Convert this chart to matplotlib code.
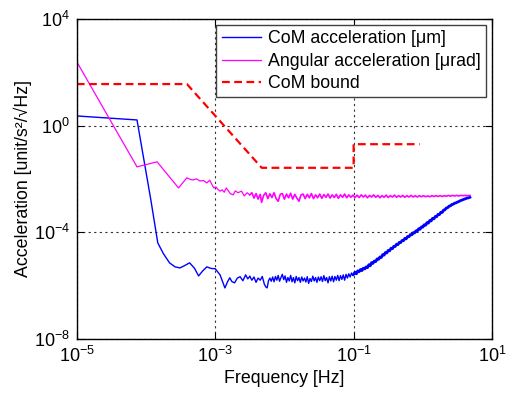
import numpy as np
import matplotlib
matplotlib.use("Agg")
import matplotlib.pyplot as plt
from matplotlib.ticker import FixedLocator, FuncFormatter, NullLocator

plt.rcParams['font.family'] = ['Liberation Sans', 'DejaVu Sans']
plt.rcParams['mathtext.fontset'] = 'custom'
plt.rcParams['mathtext.rm'] = 'Liberation Sans'
plt.rcParams['mathtext.it'] = 'Liberation Sans:italic'
plt.rcParams['mathtext.bf'] = 'Liberation Sans:bold'

# ---- CoM acceleration (log10 frequency, log10 ASD) ----
com_lf_low = [-5.00, -4.13, -3.93, -3.83, -3.75, -3.66, -3.58, -3.51, -3.44, -3.37,
              -3.30, -3.24, -3.18, -3.12, -3.06, -3.00, -2.93, -2.86, -2.82, -2.79,
              -2.76, -2.72, -2.68, -2.64, -2.60, -2.56, -2.53, -2.50]
com_la_low = [0.36, 0.21, -2.79, -4.40, -4.80, -5.15, -5.30, -5.34, -5.25, -5.15,
              -5.35, -5.64, -5.45, -5.30, -5.36, -5.37, -5.60, -6.09, -5.85, -5.71,
              -5.85, -5.90, -5.72, -5.67, -5.82, -5.60, -5.75, -5.66]

com_lf_mid = [-2.50, -2.47, -2.44, -2.41, -2.38, -2.35, -2.32, -2.29, -2.27, -2.25, -2.23,
              -2.21, -2.19, -2.17, -2.15, -2.13, -2.11, -2.09, -2.07, -2.05, -2.03,
              -2.01, -1.99, -1.97, -1.95, -1.93, -1.91, -1.89, -1.87, -1.85, -1.83,
              -1.81, -1.79, -1.77, -1.75, -1.73, -1.71, -1.69, -1.67, -1.65, -1.63,
              -1.61, -1.59, -1.57, -1.55, -1.53, -1.51, -1.49, -1.47, -1.45, -1.43,
              -1.41, -1.39, -1.37, -1.35, -1.33, -1.31, -1.29, -1.27, -1.25, -1.23,
              -1.21, -1.19, -1.17, -1.15, -1.13, -1.11, -1.09, -1.07, -1.05, -1.03,
              -1.01, -1.00]
com_la_mid = [-5.66, -5.80, -5.68, -5.88, -5.72, -5.80, -5.66, -5.95, -6.05, -6.09, -5.82,
              -5.72, -5.84, -5.68, -5.86, -5.66, -5.80, -5.62, -5.84, -5.70, -5.58,
              -5.78, -5.64, -5.88, -5.70, -5.83, -5.62, -5.86, -5.70, -5.90, -5.66,
              -5.82, -5.70, -5.88, -5.68, -5.83, -5.72, -5.87, -5.67, -5.92, -5.74,
              -5.85, -5.65, -5.83, -5.70, -5.88, -5.68, -5.82, -5.67, -5.85, -5.63,
              -5.82, -5.70, -5.90, -5.67, -5.83, -5.65, -5.86, -5.66, -5.80, -5.62,
              -5.82, -5.63, -5.77, -5.60, -5.80, -5.58, -5.72, -5.56, -5.68, -5.53,
              -5.63, -5.58]

com_lf_high = [-1.00, -0.98, -0.96, -0.94, -0.92, -0.90, -0.88, -0.86, -0.84, -0.82,
               -0.80, -0.78, -0.76, -0.74, -0.72, -0.70, -0.68, -0.66, -0.64, -0.62,
               -0.60, -0.58, -0.56, -0.54, -0.52, -0.50, -0.48, -0.46, -0.44, -0.42,
               -0.40, -0.38, -0.36, -0.34, -0.32, -0.30, -0.28, -0.26, -0.24, -0.22,
               -0.20, -0.18, -0.16, -0.14, -0.12, -0.10, -0.08, -0.06, -0.04, -0.02,
               0.00, 0.02, 0.04, 0.06, 0.08, 0.10, 0.12, 0.14, 0.16, 0.18,
               0.20, 0.22, 0.24, 0.26, 0.28, 0.30, 0.32, 0.34, 0.36, 0.38,
               0.40, 0.42, 0.44, 0.46, 0.48, 0.50, 0.52, 0.54, 0.56, 0.58,
               0.60, 0.62, 0.64, 0.66, 0.68]
com_la_high = [-5.58, -5.50, -5.56, -5.45, -5.48, -5.40, -5.44, -5.35, -5.38, -5.30,
               -5.33, -5.22, -5.26, -5.14, -5.17, -5.08, -5.10, -5.00, -5.02, -4.93,
               -4.95, -4.84, -4.86, -4.76, -4.78, -4.68, -4.70, -4.60, -4.62, -4.53,
               -4.54, -4.45, -4.47, -4.38, -4.39, -4.31, -4.32, -4.23, -4.25, -4.16,
               -4.17, -4.09, -4.10, -4.02, -4.03, -3.95, -3.96, -3.87, -3.89, -3.80,
               -3.81, -3.72, -3.74, -3.64, -3.66, -3.56, -3.58, -3.48, -3.50, -3.41,
               -3.42, -3.33, -3.34, -3.25, -3.26, -3.17, -3.16, -3.09, -3.08, -3.02,
               -3.01, -2.96, -2.95, -2.91, -2.90, -2.87, -2.85, -2.82, -2.80, -2.78,
               -2.76, -2.74, -2.72, -2.71, -2.69]

# ---- Angular acceleration (log10 frequency, log10 ASD) ----
ang_lf_low = [-5.00, -4.13, -3.84, -3.53, -3.41, -3.36, -3.32, -3.27, -3.22, -3.17,
              -3.12, -3.08, -3.05, -3.02, -2.99, -2.96, -2.93, -2.90, -2.87, -2.84,
              -2.81, -2.78, -2.74, -2.71, -2.67, -2.62, -2.58, -2.54, -2.50]
ang_la_low = [2.39, -1.55, -1.36, -2.34, -1.96, -2.02, -2.04, -2.00, -2.08, -2.06,
              -2.15, -2.05, -2.20, -2.34, -2.30, -2.40, -2.46, -2.41, -2.50, -2.34,
              -2.45, -2.56, -2.60, -2.45, -2.52, -2.46, -2.64, -2.52, -2.60]

ang_lf_mid = [-2.50, -2.47, -2.44, -2.41, -2.38, -2.35, -2.33, -2.30, -2.27, -2.24, -2.21,
              -2.18, -2.15, -2.12, -2.09, -2.06, -2.03, -2.00, -1.97, -1.94, -1.91,
              -1.88, -1.85, -1.82, -1.79, -1.76, -1.73, -1.70, -1.67, -1.64, -1.61,
              -1.58, -1.55, -1.52, -1.49, -1.46, -1.43, -1.40, -1.37, -1.34, -1.31,
              -1.28, -1.25, -1.22, -1.19, -1.16, -1.13, -1.10, -1.07, -1.04, -1.01,
              -0.98, -0.95, -0.92, -0.89, -0.86, -0.83, -0.80, -0.77, -0.74, -0.71,
              -0.68, -0.65, -0.62, -0.59, -0.56, -0.53, -0.50, -0.47, -0.44, -0.41,
              -0.38, -0.35, -0.32, -0.29, -0.26, -0.23, -0.20, -0.17, -0.14, -0.11,
              -0.08, -0.05, -0.02, 0.01, 0.04, 0.07, 0.10, 0.13, 0.16, 0.19,
              0.22, 0.25, 0.28, 0.31, 0.34, 0.37, 0.40, 0.43, 0.46, 0.49,
              0.52, 0.55, 0.58, 0.61, 0.64, 0.68]
ang_la_mid = [-2.60, -2.52, -2.72, -2.55, -2.76, -2.58, -2.88, -2.62, -2.52, -2.74, -2.56,
              -2.70, -2.52, -2.74, -2.84, -2.58, -2.55, -2.76, -2.57, -2.71, -2.54,
              -2.76, -2.58, -2.72, -2.84, -2.60, -2.57, -2.74, -2.58, -2.71, -2.55,
              -2.74, -2.60, -2.71, -2.57, -2.73, -2.59, -2.69, -2.57, -2.72, -2.60,
              -2.70, -2.58, -2.73, -2.60, -2.69, -2.57, -2.71, -2.60, -2.69, -2.61,
              -2.70, -2.61, -2.70, -2.60, -2.68, -2.61, -2.71, -2.62, -2.68, -2.60,
              -2.69, -2.62, -2.71, -2.63, -2.69, -2.61, -2.70, -2.63, -2.68, -2.61,
              -2.69, -2.63, -2.68, -2.62, -2.69, -2.63, -2.68, -2.62, -2.68, -2.63,
              -2.68, -2.63, -2.67, -2.63, -2.67, -2.64, -2.67, -2.63, -2.66, -2.63,
              -2.66, -2.63, -2.66, -2.63, -2.65, -2.62, -2.65, -2.62, -2.64, -2.62,
              -2.64, -2.62, -2.63, -2.62, -2.63, -2.62]

# ---- CoM bound (Hz, unit/s^2/rtHz) ----
bound_f = [1e-5, 3.9e-4, 4.7e-3, 0.1, 0.1, 0.9]
bound_a = [36.0, 36.0, 0.026, 0.026, 0.2, 0.2]

fig = plt.figure(figsize=(5.12, 3.94), dpi=100)
ax = fig.add_axes([0.150, 0.140, 0.811, 0.812])

blue = '#0000ff'
mag = '#ff00ff'

def pw(v):
    return 10.0 ** np.asarray(v)

ax.plot(pw(com_lf_low), pw(com_la_low), color=blue, lw=1.0,
        label='CoM acceleration [\u03bcm]')
ax.plot(pw(com_lf_mid), pw(com_la_mid), color=blue, lw=1.0)
ax.plot(pw(com_lf_high), pw(com_la_high), color=blue, lw=2.0)

ax.plot(pw(ang_lf_low), pw(ang_la_low), color=mag, lw=0.9,
        label='Angular acceleration [\u03bcrad]')
ax.plot(pw(ang_lf_mid), pw(ang_la_mid), color=mag, lw=1.2)

ax.plot(bound_f, bound_a, color='#ff0000', lw=1.6, ls=(0, (3.5, 2.0)),
        label='CoM bound')

ax.set_xscale('log')
ax.set_yscale('log')
ax.set_xlim(1e-5, 10)
ax.set_ylim(1e-8, 1e4)

xt = [1e-5, 1e-3, 1e-1, 1e1]
yt = [1e-8, 1e-4, 1e0, 1e4]
ax.xaxis.set_major_locator(FixedLocator(xt))
ax.yaxis.set_major_locator(FixedLocator(yt))
ax.xaxis.set_minor_locator(NullLocator())
ax.yaxis.set_minor_locator(NullLocator())

def fmt(v, pos):
    e = int(round(np.log10(v)))
    return r'$\mathregular{10^{%d}}$' % e

ax.xaxis.set_major_formatter(FuncFormatter(fmt))
ax.yaxis.set_major_formatter(FuncFormatter(fmt))

ax.tick_params(which='both', direction='in', length=5, width=0.8,
               top=True, right=True, labelsize=13, pad=5)
ax.grid(True, which='major', color='#333333', ls=(0, (2, 3)), lw=0.8)
for s in ax.spines.values():
    s.set_linewidth(1.0)
    s.set_color('black')

ax.set_xlabel('Frequency [Hz]', fontsize=12.8, labelpad=3)
ax.set_ylabel('Acceleration [unit/s\u00b2/\u221aHz]', fontsize=12.8)
ax.yaxis.set_label_coords(-0.107, 0.5)

leg = ax.legend(loc='upper right', fontsize=12.8, handlelength=2.2,
                fancybox=False, framealpha=1.0, edgecolor='#404040',
                borderaxespad=0.35, borderpad=0.3, labelspacing=0.3,
                handletextpad=0.4)
leg.get_frame().set_linewidth(1.0)

fig.savefig('out.png', dpi=100)
